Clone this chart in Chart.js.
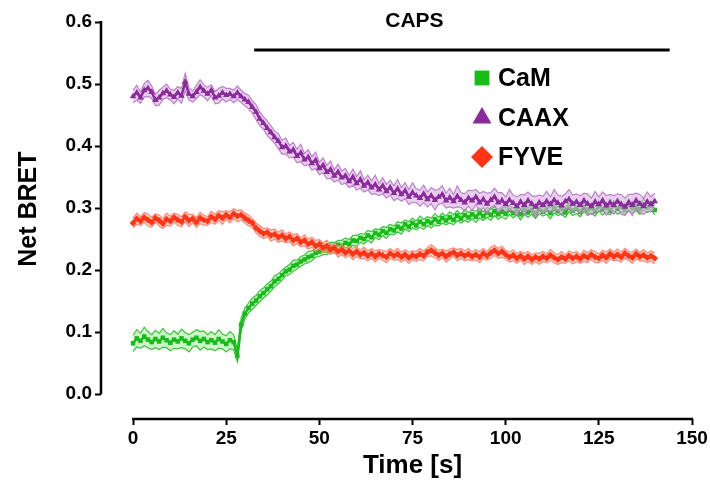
<!DOCTYPE html>
<html>
<head>
<meta charset="utf-8">
<script src="https://cdn.jsdelivr.net/npm/chart.js@4.4.1/dist/chart.umd.min.js"></script>
<style>
  html, body { margin: 0; padding: 0; background: #fff; }
</style>
</head>
<body>
<canvas id="grafico" width="710" height="485"></canvas>
<script>
// tempo em segundos
const tempo = [
  0, 1, 2, 3, 4, 5, 6, 7, 8, 9,
  10, 11, 12, 13, 14, 15, 16, 17, 18, 19,
  20, 21, 22, 23, 24, 25, 26, 27, 28, 29,
  30, 31, 32, 33, 34, 35, 36, 37, 38, 39,
  40, 41, 42, 43, 44, 45, 46, 47, 48, 49,
  50, 51, 52, 53, 54, 55, 56, 57, 58, 59,
  60, 61, 62, 63, 64, 65, 66, 67, 68, 69,
  70, 71, 72, 73, 74, 75, 76, 77, 78, 79,
  80, 81, 82, 83, 84, 85, 86, 87, 88, 89,
  90, 91, 92, 93, 94, 95, 96, 97, 98, 99,
  100, 101, 102, 103, 104, 105, 106, 107, 108, 109,
  110, 111, 112, 113, 114, 115, 116, 117, 118, 119,
  120, 121, 122, 123, 124, 125, 126, 127, 128, 129,
  130, 131, 132, 133, 134, 135, 136, 137, 138, 139,
  140
];

const camMedia = [
  0.082, 0.090, 0.086, 0.093, 0.088, 0.084, 0.089, 0.085, 0.091, 0.087,
  0.083, 0.088, 0.085, 0.090, 0.086, 0.082, 0.088, 0.091, 0.086, 0.089,
  0.084, 0.087, 0.083, 0.089, 0.085, 0.081, 0.087, 0.084, 0.062, 0.112,
  0.130, 0.139, 0.146, 0.151, 0.158, 0.163, 0.169, 0.174, 0.182, 0.186,
  0.192, 0.198, 0.201, 0.207, 0.209, 0.214, 0.217, 0.221, 0.223, 0.228,
  0.230, 0.234, 0.232, 0.237, 0.236, 0.241, 0.239, 0.244, 0.242, 0.248,
  0.247, 0.252, 0.250, 0.256, 0.253, 0.260, 0.257, 0.263, 0.260, 0.266,
  0.264, 0.270, 0.267, 0.274, 0.270, 0.276, 0.272, 0.278, 0.274, 0.279,
  0.276, 0.282, 0.278, 0.284, 0.280, 0.285, 0.281, 0.288, 0.283, 0.289,
  0.285, 0.290, 0.286, 0.292, 0.287, 0.293, 0.289, 0.295, 0.290, 0.294,
  0.291, 0.297, 0.292, 0.296, 0.290, 0.298, 0.293, 0.297, 0.292, 0.299,
  0.294, 0.298, 0.292, 0.300, 0.295, 0.299, 0.293, 0.301, 0.296, 0.300,
  0.294, 0.302, 0.297, 0.300, 0.295, 0.303, 0.298, 0.301, 0.296, 0.304,
  0.299, 0.302, 0.297, 0.305, 0.300, 0.303, 0.298, 0.306, 0.301, 0.304,
  0.297
];
const camErro = [
  0.013, 0.014, 0.012, 0.015, 0.013, 0.012, 0.014, 0.013, 0.015, 0.012,
  0.013, 0.014, 0.012, 0.015, 0.013, 0.014, 0.012, 0.013, 0.015, 0.013,
  0.012, 0.014, 0.013, 0.015, 0.012, 0.013, 0.014, 0.012, 0.010, 0.010,
  0.009, 0.008, 0.009, 0.008, 0.009, 0.008, 0.009, 0.008, 0.009, 0.008,
  0.008, 0.007, 0.008, 0.009, 0.007, 0.008, 0.007, 0.009, 0.008, 0.007,
  0.008, 0.009, 0.007, 0.008, 0.008, 0.007, 0.009, 0.008, 0.007, 0.008,
  0.009, 0.007, 0.008, 0.008, 0.009, 0.007, 0.008, 0.007, 0.009, 0.008,
  0.007, 0.008, 0.009, 0.007, 0.008, 0.008, 0.007, 0.009, 0.008, 0.007,
  0.008, 0.009, 0.007, 0.008, 0.007, 0.009, 0.008, 0.008, 0.007, 0.009,
  0.008, 0.007, 0.009, 0.008, 0.007, 0.008, 0.009, 0.007, 0.008, 0.008,
  0.009, 0.007, 0.008, 0.007, 0.009, 0.008, 0.008, 0.007, 0.009, 0.008,
  0.007, 0.008, 0.009, 0.008, 0.007, 0.009, 0.008, 0.007, 0.008, 0.009,
  0.008, 0.007, 0.009, 0.008, 0.008, 0.007, 0.009, 0.008, 0.007, 0.008,
  0.009, 0.008, 0.007, 0.009, 0.008, 0.007, 0.008, 0.009, 0.008, 0.007,
  0.008
];

const caaxMedia = [
  0.480, 0.486, 0.478, 0.490, 0.493, 0.487, 0.474, 0.478, 0.485, 0.489,
  0.483, 0.479, 0.486, 0.481, 0.503, 0.484, 0.480, 0.487, 0.495, 0.489,
  0.484, 0.490, 0.478, 0.481, 0.486, 0.482, 0.484, 0.480, 0.486, 0.480,
  0.475, 0.471, 0.463, 0.455, 0.444, 0.437, 0.429, 0.422, 0.414, 0.408,
  0.398, 0.400, 0.391, 0.394, 0.384, 0.389, 0.378, 0.382, 0.372, 0.377,
  0.364, 0.369, 0.358, 0.362, 0.352, 0.358, 0.349, 0.352, 0.343, 0.350,
  0.340, 0.346, 0.336, 0.341, 0.333, 0.338, 0.330, 0.336, 0.327, 0.333,
  0.324, 0.331, 0.322, 0.328, 0.318, 0.325, 0.320, 0.316, 0.323, 0.314,
  0.320, 0.313, 0.318, 0.322, 0.312, 0.317, 0.311, 0.319, 0.313, 0.309,
  0.316, 0.312, 0.318, 0.309, 0.314, 0.307, 0.313, 0.318, 0.309, 0.312,
  0.306, 0.313, 0.308, 0.303, 0.310, 0.305, 0.312, 0.307, 0.302, 0.309,
  0.305, 0.311, 0.306, 0.313, 0.308, 0.304, 0.311, 0.314, 0.307, 0.310,
  0.305, 0.312, 0.307, 0.303, 0.310, 0.306, 0.312, 0.304, 0.309, 0.305,
  0.311, 0.306, 0.302, 0.309, 0.305, 0.312, 0.307, 0.303, 0.310, 0.306,
  0.311
];
const caaxErro = [
  0.010, 0.012, 0.009, 0.011, 0.013, 0.010, 0.009, 0.012, 0.010, 0.011,
  0.009, 0.011, 0.010, 0.012, 0.014, 0.010, 0.009, 0.011, 0.012, 0.010,
  0.011, 0.009, 0.010, 0.012, 0.010, 0.011, 0.009, 0.010, 0.011, 0.010,
  0.010, 0.011, 0.010, 0.012, 0.011, 0.010, 0.012, 0.011, 0.010, 0.012,
  0.011, 0.013, 0.010, 0.012, 0.011, 0.014, 0.010, 0.012, 0.011, 0.013,
  0.010, 0.012, 0.011, 0.014, 0.010, 0.013, 0.011, 0.012, 0.010, 0.013,
  0.011, 0.014, 0.010, 0.012, 0.011, 0.015, 0.010, 0.013, 0.011, 0.012,
  0.012, 0.015, 0.011, 0.013, 0.012, 0.016, 0.011, 0.013, 0.014, 0.012,
  0.013, 0.016, 0.012, 0.014, 0.012, 0.015, 0.011, 0.017, 0.012, 0.014,
  0.013, 0.016, 0.012, 0.015, 0.013, 0.017, 0.012, 0.014, 0.016, 0.013,
  0.012, 0.017, 0.013, 0.015, 0.012, 0.016, 0.014, 0.013, 0.017, 0.012,
  0.014, 0.016, 0.012, 0.017, 0.013, 0.015, 0.012, 0.016, 0.014, 0.013,
  0.015, 0.012, 0.016, 0.013, 0.017, 0.012, 0.014, 0.016, 0.013, 0.015,
  0.012, 0.016, 0.014, 0.013, 0.017, 0.012, 0.015, 0.013, 0.016, 0.012,
  0.013
];

const fyveMedia = [
  0.276, 0.283, 0.279, 0.285, 0.281, 0.277, 0.284, 0.280, 0.275, 0.282,
  0.279, 0.285, 0.281, 0.278, 0.286, 0.280, 0.283, 0.277, 0.284, 0.281,
  0.279, 0.286, 0.282, 0.288, 0.284, 0.289, 0.285, 0.291, 0.287, 0.289,
  0.284, 0.280, 0.276, 0.268, 0.263, 0.259, 0.261, 0.256, 0.258, 0.253,
  0.256, 0.251, 0.254, 0.248, 0.251, 0.245, 0.248, 0.242, 0.245, 0.239,
  0.242, 0.236, 0.239, 0.233, 0.236, 0.230, 0.233, 0.228, 0.231, 0.226,
  0.230, 0.225, 0.228, 0.223, 0.227, 0.222, 0.226, 0.224, 0.221, 0.227,
  0.223, 0.226, 0.221, 0.225, 0.220, 0.224, 0.222, 0.226, 0.223, 0.229,
  0.232, 0.228, 0.224, 0.227, 0.222, 0.226, 0.229, 0.224, 0.227, 0.223,
  0.226, 0.222, 0.225, 0.221, 0.227, 0.223, 0.228, 0.232, 0.227, 0.230,
  0.225, 0.221, 0.224, 0.219, 0.223, 0.218, 0.222, 0.217, 0.221, 0.218,
  0.222, 0.219, 0.224, 0.220, 0.217, 0.221, 0.218, 0.223, 0.219, 0.222,
  0.218, 0.223, 0.220, 0.225, 0.221, 0.219, 0.224, 0.220, 0.226, 0.222,
  0.225, 0.221, 0.227, 0.223, 0.220, 0.226, 0.222, 0.224, 0.220, 0.223,
  0.219
];
const fyveErro = [
  0.008, 0.009, 0.007, 0.008, 0.010, 0.008, 0.007, 0.009, 0.008, 0.010,
  0.008, 0.007, 0.009, 0.008, 0.008, 0.010, 0.007, 0.008, 0.009, 0.008,
  0.007, 0.009, 0.008, 0.008, 0.010, 0.007, 0.009, 0.008, 0.009, 0.008,
  0.008, 0.009, 0.007, 0.008, 0.009, 0.008, 0.007, 0.009, 0.008, 0.008,
  0.009, 0.007, 0.008, 0.009, 0.008, 0.007, 0.009, 0.008, 0.008, 0.009,
  0.007, 0.008, 0.009, 0.008, 0.007, 0.009, 0.008, 0.008, 0.007, 0.009,
  0.008, 0.007, 0.009, 0.008, 0.008, 0.009, 0.007, 0.008, 0.009, 0.008,
  0.007, 0.009, 0.008, 0.008, 0.009, 0.007, 0.008, 0.009, 0.008, 0.007,
  0.009, 0.008, 0.008, 0.007, 0.009, 0.008, 0.007, 0.009, 0.008, 0.008,
  0.009, 0.007, 0.008, 0.009, 0.008, 0.007, 0.009, 0.008, 0.008, 0.009,
  0.007, 0.008, 0.009, 0.008, 0.007, 0.009, 0.008, 0.008, 0.007, 0.009,
  0.008, 0.007, 0.009, 0.008, 0.008, 0.009, 0.007, 0.008, 0.009, 0.008,
  0.007, 0.009, 0.008, 0.008, 0.009, 0.007, 0.008, 0.009, 0.008, 0.007,
  0.009, 0.008, 0.008, 0.007, 0.009, 0.008, 0.007, 0.009, 0.008, 0.008,
  0.009
];

const xTicks = [0, 25, 50, 75, 100, 125, 150];
const yTicks = [0, 0.1, 0.2, 0.3, 0.4, 0.5, 0.6];

// barra do CAPS (inicio, fim em s; nivel em Net BRET)
const capsInicio = 32.5;
const capsFim = 144;
const capsNivel = 0.555;

const fonte = "'Liberation Sans', Arial, Helvetica, sans-serif";

function pontos(valores) {
  return valores.map((v, i) => ({ x: tempo[i], y: v }));
}

function faixa(media, erro, sinal) {
  return media.map((v, i) => ({ x: tempo[i], y: v + sinal * erro[i] }));
}

function linhaMedia(rotulo, media, cor, estilo, raio, ordem) {
  return {
    label: rotulo,
    data: pontos(media),
    borderColor: cor,
    backgroundColor: cor,
    borderWidth: 2.5,
    pointStyle: estilo,
    pointRadius: raio,
    pointBorderWidth: 0,
    pointBackgroundColor: cor,
    fill: false,
    tension: 0,
    order: ordem,
    legenda: true
  };
}

function bordaFaixa(dados, corLinha, corFundo, ordem, preencher) {
  return {
    data: dados,
    borderColor: corLinha,
    backgroundColor: corFundo,
    borderWidth: 1.2,
    pointRadius: 0,
    fill: preencher ? '-1' : false,
    tension: 0,
    order: ordem
  };
}

const eixosPlugin = {
  id: 'eixos',
  afterDraw(chart) {
    const c = chart.ctx;
    const x = chart.scales.x;
    const y = chart.scales.y;
    const x0 = x.getPixelForValue(xTicks[0]);
    const x1 = x.getPixelForValue(xTicks[xTicks.length - 1]);
    c.save();
    c.strokeStyle = '#000';
    c.lineWidth = 2.5;
    c.beginPath();
    c.moveTo(x.left, y.getPixelForValue(yTicks[0]));
    c.lineTo(x.left, y.getPixelForValue(yTicks[yTicks.length - 1]) - 1);
    c.moveTo(x0 - 1, y.bottom);
    c.lineTo(x1 + 1, y.bottom);
    c.stroke();

    c.fillStyle = '#000';
    c.textAlign = 'center';
    c.textBaseline = 'middle';

    // titulo do eixo x, centrado na linha do eixo
    c.font = 'bold 26px ' + fonte;
    c.fillText('Time [s]', (x0 + x1) / 2, 466);

    // texto CAPS
    c.font = 'bold 21px ' + fonte;
    c.fillText('CAPS', x.getPixelForValue(75.5), 21);

    // titulo do eixo y
    c.font = 'bold 25px ' + fonte;
    c.translate(29, y.getPixelForValue(0.3) + 1);
    c.rotate(-Math.PI / 2);
    c.fillText('Net BRET', 0, 0);
    c.restore();
  }
};

const legendaPlugin = {
  id: 'legenda',
  afterDraw(chart) {
    const c = chart.ctx;
    const linhas = [78, 118, 157];
    const series = chart.data.datasets.filter(d => d.legenda);
    c.save();
    c.font = 'bold 25px ' + fonte;
    c.textBaseline = 'middle';
    c.textAlign = 'left';
    series.forEach((ds, k) => {
      c.fillStyle = ds.borderColor;
      c.strokeStyle = ds.borderColor;
      Chart.helpers.drawPoint(c, { pointStyle: ds.pointStyle, radius: ds.pointStyle === 'rect' ? 10.5 : 11, rotation: 0, borderWidth: 0 }, 482, linhas[k]);
      c.fillStyle = '#000';
      c.fillText(ds.label, 498, linhas[k] + 1);
    });
    c.restore();
  }
};

const ctx = document.getElementById('grafico').getContext('2d');

const meuGrafico = new Chart(ctx, {
  type: 'line',
  data: {
    datasets: [
      linhaMedia('CaM', camMedia, '#17bd17', 'rect', 3.2, 7),
      linhaMedia('CAAX', caaxMedia, '#8a2a9c', 'triangle', 3.8, 4),
      linhaMedia('FYVE', fyveMedia, '#ff3414', 'rectRot', 3.4, 1),
      bordaFaixa(faixa(camMedia, camErro, 1), 'rgba(40,190,40,0.9)', 'rgba(170,240,165,0.6)', 8, false),
      bordaFaixa(faixa(camMedia, camErro, -1), 'rgba(40,190,40,0.9)', 'rgba(170,240,165,0.6)', 9, true),
      bordaFaixa(faixa(caaxMedia, caaxErro, 1), 'rgba(175,105,190,0.8)', 'rgba(215,175,225,0.6)', 5, false),
      bordaFaixa(faixa(caaxMedia, caaxErro, -1), 'rgba(175,105,190,0.8)', 'rgba(215,175,225,0.6)', 6, true),
      bordaFaixa(faixa(fyveMedia, fyveErro, 1), 'rgba(255,110,90,0.8)', 'rgba(255,175,160,0.55)', 2, false),
      bordaFaixa(faixa(fyveMedia, fyveErro, -1), 'rgba(255,110,90,0.8)', 'rgba(255,175,160,0.55)', 3, true),
      {
        data: [{ x: capsInicio, y: capsNivel }, { x: capsFim, y: capsNivel }],
        borderColor: '#000',
        borderWidth: 3,
        pointRadius: 0,
        fill: false,
        clip: false,
        order: 0
      }
    ]
  },
  options: {
    responsive: false,
    animation: false,
    devicePixelRatio: 1,
    layout: { padding: { top: 22, right: 18, left: 0, bottom: 0 } },
    plugins: {
      legend: { display: false },
      tooltip: { enabled: false }
    },
    scales: {
      x: {
        type: 'linear',
        min: -8.6,
        max: 150,
        afterBuildTicks: s => { s.ticks = xTicks.map(v => ({ value: v })); },
        afterFit: s => { s.height = 66; },
        border: { display: false },
        grid: { drawOnChartArea: false, drawTicks: true, tickLength: 6, tickWidth: 2, tickColor: '#000' },
        ticks: { color: '#000', font: { family: fonte, size: 19, weight: 'bold' }, padding: 2, maxRotation: 0 }
      },
      y: {
        type: 'linear',
        min: -0.04,
        max: 0.6,
        afterBuildTicks: s => { s.ticks = yTicks.map(v => ({ value: v })); },
        afterFit: s => { s.width = 101; },
        border: { display: false },
        grid: { drawOnChartArea: false, drawTicks: true, tickLength: 6, tickWidth: 2, tickColor: '#000' },
        ticks: { color: '#000', font: { family: fonte, size: 19, weight: 'bold' }, padding: 3, callback: v => v.toFixed(1) }
      }
    }
  },
  plugins: [eixosPlugin, legendaPlugin]
});
</script>
</body>
</html>
